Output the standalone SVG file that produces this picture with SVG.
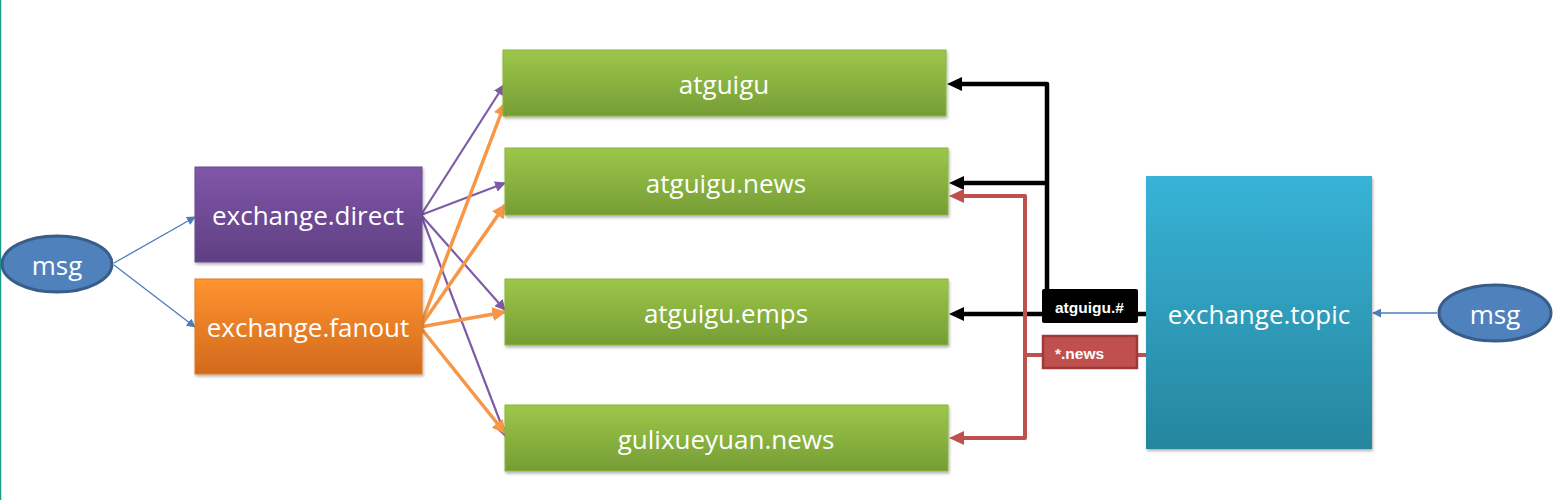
<svg xmlns="http://www.w3.org/2000/svg" width="1559" height="500" viewBox="0 0 1559 500">
<defs>
<linearGradient id="gPurple" x1="0" y1="0" x2="0" y2="1"><stop offset="0" stop-color="#7F56A9"/><stop offset="1" stop-color="#5F4082"/></linearGradient>
<linearGradient id="gOrange" x1="0" y1="0" x2="0" y2="1"><stop offset="0" stop-color="#FF942F"/><stop offset="1" stop-color="#D2691D"/></linearGradient>
<linearGradient id="gGreen" x1="0" y1="0" x2="0" y2="1"><stop offset="0" stop-color="#9DC74A"/><stop offset="1" stop-color="#759D35"/></linearGradient>
<linearGradient id="gBlue" x1="0" y1="0" x2="0" y2="1"><stop offset="0" stop-color="#37B3D7"/><stop offset="1" stop-color="#26869E"/></linearGradient>
<filter id="sh" x="-10%" y="-10%" width="120%" height="130%"><feDropShadow dx="1" dy="2" stdDeviation="1.5" flood-color="#000" flood-opacity="0.3"/></filter>
<marker id="mBlue" viewBox="0 0 10 10" refX="9" refY="5" markerWidth="9" markerHeight="9" markerUnits="userSpaceOnUse" orient="auto"><path d="M0,0 L10,5 L0,10 z" fill="#4A7EBB"/></marker>
<marker id="mPurple" viewBox="0 0 10 10" refX="9" refY="5" markerWidth="11" markerHeight="11" markerUnits="userSpaceOnUse" orient="auto"><path d="M0,0 L10,5 L0,10 z" fill="#7D5BA6"/></marker>
<marker id="mOrange" viewBox="0 0 10 10" refX="9" refY="5" markerWidth="14" markerHeight="14" markerUnits="userSpaceOnUse" orient="auto"><path d="M0,0 L10,5 L0,10 z" fill="#F79646"/></marker>
</defs>
<style>
.t{font-family:"Open Sans","Noto Sans",sans-serif;font-size:26px;fill:#fff;text-anchor:middle;dominant-baseline:central}
.lbl{font-family:"Liberation Sans",Arial,sans-serif;font-size:15.5px;font-weight:bold;fill:#fff;dominant-baseline:central}
.blue{stroke:#4A7EBB;stroke-width:1.3;fill:none;marker-end:url(#mBlue)}
.pur{stroke:#7D5BA6;stroke-width:2.2;fill:none;marker-end:url(#mPurple)}
.org{stroke:#F79646;stroke-width:3.5;fill:none;marker-end:url(#mOrange)}
.blk{stroke:#000;stroke-width:4.5;fill:none;stroke-linejoin:round}
.red{stroke:#C0504D;stroke-width:4;fill:none;stroke-linejoin:round}
</style>
<rect x="0" y="0" width="1559" height="500" fill="#fff"/>
<line x1="0.5" y1="0" x2="0.5" y2="500" stroke="#1E9A8C" stroke-width="1.5"/>

<g id="connectors">
<line class="blue" x1="114" y1="263" x2="195" y2="217"/>
<line class="blue" x1="114" y1="265" x2="195" y2="327"/>
<line class="blue" x1="1437" y1="313" x2="1373" y2="313"/>
<line class="pur" x1="421" y1="215" x2="504" y2="85"/>
<line class="pur" x1="421" y1="215" x2="505" y2="183"/>
<line class="pur" x1="421" y1="215" x2="505" y2="310"/>
<line class="pur" x1="421" y1="215" x2="506" y2="437"/>
<line class="org" x1="420" y1="327" x2="505" y2="103"/>
<line class="org" x1="420" y1="327" x2="505" y2="205"/>
<line class="org" x1="420" y1="327" x2="505" y2="312"/>
<line class="org" x1="420" y1="327" x2="505" y2="433"/>
<polyline class="blk" points="1146,314 1047,314 1047,84 960,84"/>
<polyline class="blk" points="1047,183 962,183"/>
<polyline class="blk" points="1047,314 962,314"/>
<path d="M947,84 L962,77 L962,91 z"/>
<path d="M949,183 L964,176 L964,190 z"/>
<path d="M949,314 L964,307 L964,321 z"/>
<polyline class="red" points="1146,355 1025,355"/>
<polyline class="red" points="962,196 1025,196 1025,438 962,438"/>
<path d="M949,196 L964,189 L964,203 z" fill="#C0504D"/>
<path d="M949,438 L964,431 L964,445 z" fill="#C0504D"/>
</g>

<g id="label-atguigu-hash">
<rect x="1042" y="289" width="96" height="34" rx="2" fill="#000"/>
<text class="lbl" x="1055" y="307">atguigu.#</text>
</g>
<g id="label-news">
<rect x="1043" y="336" width="94" height="32" fill="#C0504D" stroke="#9E3B38" stroke-width="2.5"/>
<text class="lbl" x="1055" y="353">*.news</text>
</g>

<g id="msg-left">
<ellipse cx="57" cy="264" rx="55" ry="28" fill="#4F81BD" stroke="#385D8A" stroke-width="3"/>
<text class="t" x="57" y="265">msg</text>
</g>
<g id="exchange-direct">
<rect x="195" y="167" width="227" height="95" fill="url(#gPurple)" stroke="#6A4A90" stroke-width="1" filter="url(#sh)"/>
<text class="t" x="308" y="215">exchange.direct</text>
</g>
<g id="exchange-fanout">
<rect x="195" y="279" width="227" height="95" fill="url(#gOrange)" stroke="#E07B26" stroke-width="1" filter="url(#sh)"/>
<text class="t" x="308" y="327">exchange.fanout</text>
</g>
<g id="q-atguigu">
<rect x="503" y="50" width="443" height="66" fill="url(#gGreen)" stroke="#8AB63F" stroke-width="1" filter="url(#sh)"/>
<text class="t" x="724" y="84">atguigu</text>
</g>
<g id="q-atguigu-news">
<rect x="505" y="148" width="443" height="67" fill="url(#gGreen)" stroke="#8AB63F" stroke-width="1" filter="url(#sh)"/>
<text class="t" x="726" y="183">atguigu.news</text>
</g>
<g id="q-atguigu-emps">
<rect x="505" y="279" width="443" height="66" fill="url(#gGreen)" stroke="#8AB63F" stroke-width="1" filter="url(#sh)"/>
<text class="t" x="726" y="313">atguigu.emps</text>
</g>
<g id="q-gulixueyuan-news">
<rect x="505" y="405" width="443" height="66" fill="url(#gGreen)" stroke="#8AB63F" stroke-width="1" filter="url(#sh)"/>
<text class="t" x="726" y="439">gulixueyuan.news</text>
</g>
<g id="exchange-topic">
<rect x="1146" y="176" width="226" height="273" fill="url(#gBlue)" filter="url(#sh)"/>
<text class="t" x="1259" y="314">exchange.topic</text>
</g>
<g id="msg-right">
<ellipse cx="1495" cy="313" rx="56" ry="28" fill="#4F81BD" stroke="#385D8A" stroke-width="3"/>
<text class="t" x="1495" y="314">msg</text>
</g>
</svg>
